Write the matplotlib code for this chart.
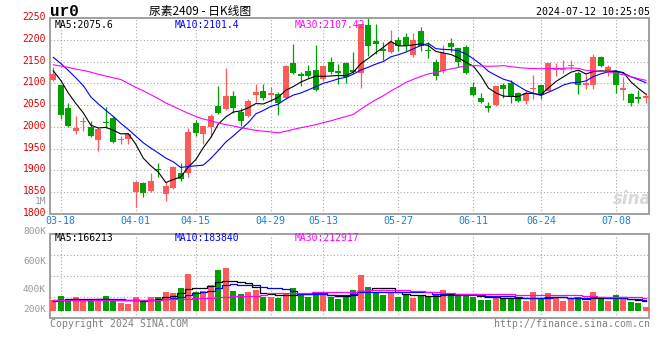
import numpy as np
import pandas as pd
import matplotlib
matplotlib.use("Agg")
import matplotlib.pyplot as plt
from matplotlib.transforms import ScaledTranslation

holidays = ["2024-04-04", "2024-04-05", "2024-05-01", "2024-05-02",
            "2024-05-03", "2024-06-10"]
days = [d for d in pd.bdate_range("2024-03-15", "2024-07-12")
        if d.strftime("%Y-%m-%d") not in holidays]
dates = [d.strftime("%m-%d") for d in days]

opens = [2108, 2096, 2043, 1990, 2011, 1999, 1970, 2011, 2020, 1970,
         1973, 1849, 1870, 1853, 1904, 1845, 1859, 1894, 1893, 2010,
         1983, 1999, 2049, 2041, 2070, 2035, 2024, 2074, 2083, 2074,
         2076, 2066, 2148, 2122, 2129, 2131, 2110, 2150, 2129, 2147,
         2132, 2125, 2235, 2197, 2180, 2172, 2201, 2206, 2165, 2220,
         2178, 2150, 2128, 2192, 2181, 2183, 2091, 2066, 2049, 2050,
         2096, 2101, 2078, 2060, 2088, 2096, 2083, 2130, 2130, 2141,
         2124, 2096, 2096, 2160, 2126, 2126, 2086, 2076, 2068, 2066]
highs = [2138, 2097, 2056, 2026, 2023, 2014, 1999, 2045, 2026, 1978,
         1987, 1876, 1874, 1893, 1917, 1872, 1910, 1917, 1997, 2016,
         2002, 2030, 2093, 2135, 2083, 2043, 2063, 2099, 2099, 2091,
         2081, 2142, 2190, 2126, 2142, 2189, 2142, 2160, 2145, 2150,
         2173, 2238, 2272, 2236, 2195, 2222, 2207, 2216, 2215, 2231,
         2195, 2156, 2189, 2204, 2182, 2189, 2104, 2079, 2058, 2094,
         2102, 2109, 2081, 2086, 2119, 2097, 2147, 2148, 2153, 2155,
         2129, 2122, 2168, 2164, 2142, 2132, 2114, 2079, 2086, 2078]
lows = [2106, 2018, 1999, 1983, 1990, 1977, 1945, 1997, 1962, 1960,
        1960, 1815, 1838, 1850, 1884, 1830, 1856, 1875, 1884, 1978,
        1960, 1976, 2030, 2039, 2033, 2003, 2022, 2058, 2062, 2058,
        2027, 2064, 2121, 2095, 2112, 2082, 2106, 2122, 2099, 2100,
        2123, 2089, 2164, 2167, 2153, 2171, 2175, 2175, 2161, 2175,
        2158, 2108, 2125, 2173, 2137, 2122, 2070, 2056, 2035, 2049,
        2066, 2056, 2058, 2052, 2064, 2064, 2082, 2118, 2123, 2130,
        2076, 2088, 2088, 2138, 2118, 2078, 2062, 2047, 2055, 2054]
closes = [2122, 2027, 2001, 1997, 2014, 1980, 1995, 2008, 1964, 1972,
          1983, 1872, 1848, 1876, 1900, 1863, 1907, 1879, 1988, 1986,
          2001, 2024, 2033, 2070, 2043, 2014, 2060, 2081, 2066, 2079,
          2055, 2141, 2123, 2118, 2116, 2086, 2139, 2127, 2123, 2114,
          2127, 2237, 2187, 2190, 2175, 2195, 2186, 2187, 2201, 2187,
          2175, 2118, 2170, 2183, 2149, 2124, 2073, 2058, 2043, 2093,
          2087, 2068, 2060, 2079, 2090, 2073, 2146, 2134, 2133, 2143,
          2097, 2102, 2162, 2141, 2138, 2096, 2089, 2054, 2065, 2072]
# volume, thousand lots
volumes = [175, 240, 191, 224, 159, 159, 191, 240, 159, 131,
           115, 224, 159, 224, 224, 306, 290, 371, 601, 306,
           322, 416, 666, 699, 322, 269, 306, 339, 224, 224,
           208, 285, 371, 252, 224, 290, 278, 229, 191, 229,
           339, 584, 388, 306, 257, 311, 229, 257, 213, 257,
           229, 257, 339, 269, 269, 257, 229, 175, 175, 246,
           203, 213, 191, 159, 306, 186, 290, 213, 164, 186,
           224, 164, 306, 191, 164, 257, 191, 142, 126, 66]

# moving averages before enough bars are on screen
ma5_head = [2129, 2107, 2078, 2054]
ma10_head = [2160, 2146, 2130, 2113, 2095, 2069, 2053, 2038, 2024]
ma30_head = [2143, 2140, 2137, 2133, 2130, 2126, 2121, 2117, 2113, 2109,
             2100, 2091, 2083, 2074, 2065, 2055, 2047, 2039, 2031, 2024,
             2018, 2014, 2009, 2005, 2002, 1998, 1995, 1992, 1990]
vma5_head = [160, 175, 185, 195]
vma10_head = [170, 172, 175, 178, 180, 182, 184, 185, 186]
vma30_head = [175, 175, 176, 176, 177, 177, 178, 178, 179, 179,
              180, 180, 181, 181, 182, 184, 187, 190, 195, 200,
              205, 212, 220, 228, 234, 240, 244, 248, 252]

tick_dates = ["03-18", "04-01", "04-15", "04-29", "05-13",
              "05-27", "06-11", "06-24", "07-08"]
price_ticks = list(range(1800, 2251, 50))
vol_labels = [("1M", 201.5), ("800K", 231), ("600K", 261),
              ("400K", 290), ("200K", 310)]

RED = "#ff5a5a"
GREEN = "#00a000"
GRID = "#a8a8a8"
FRAME = "#a0a0a0"
MONO = "DejaVu Sans Mono"
W, H = 660, 360


def box(l, t, r, b):
    return [l / W, 1 - b / H, (r - l) / W, (b - t) / H]


def with_head(values, n, head):
    ma = pd.Series(values, dtype=float).rolling(n).mean().to_numpy()
    ma[:n - 1] = head
    return ma


x = np.arange(len(dates))
o, h, l, c = map(np.asarray, (opens, highs, lows, closes))
up = c >= o
colors = np.where(up, RED, GREEN)
tick_pos = [dates.index(d) for d in tick_dates]

fig = plt.figure(figsize=(W / 100, H / 100), dpi=100)
ax = fig.add_axes(box(50.3, 18.3, 649.3, 213.7))
axv = fig.add_axes(box(50.3, 234.3, 649.3, 318.3))

for a in (ax, axv):
    a.set_xlim(-0.4, 79.45)
    a.set_xticks(tick_pos)
    a.grid(True, color=GRID, lw=0.8, linestyle=(0, (1, 2)))
    a.set_axisbelow(True)
    a.tick_params(length=0)
    for s in a.spines.values():
        s.set_color(FRAME)
        s.set_linewidth(1.4)

# ---- candles ----
ax.vlines(x, l, h, colors=colors, lw=0.9, zorder=2)
body_lo = np.minimum(o, c)
body_h = np.maximum(np.abs(c - o), 2.0)
ax.bar(x, body_h, bottom=body_lo, width=0.8, color=colors, lw=0, zorder=3)

ax.plot(x, with_head(c, 5, ma5_head), color="black", lw=0.8, zorder=4)
ax.plot(x, with_head(c, 10, ma10_head), color="#0000ff", lw=0.8, zorder=4)
ax.plot(x, with_head(c, 30, ma30_head), color="#ff00ff", lw=0.8, zorder=4)

ax.set_ylim(1800, 2250)
ax.set_yticks(price_ticks)
ax.set_yticklabels([str(p) for p in price_ticks], color="#e00000",
                   family=MONO, fontsize=7)
ax.tick_params(axis="y", pad=3)
lift = ScaledTranslation(0, 2 / 100, fig.dpi_scale_trans)
for lab in ax.get_yticklabels():
    lab.set_transform(lab.get_transform() + lift)
ax.set_xticklabels(tick_dates, color="#1a7fd4", family=MONO, fontsize=7.2)
ax.tick_params(axis="x", pad=2)

ax.text(0.008, 0.968, "MA5:2075.6", transform=ax.transAxes, family=MONO,
        fontsize=7, color="black", va="center", zorder=6)
ax.text(0.208, 0.968, "MA10:2101.4", transform=ax.transAxes, family=MONO,
        fontsize=7, color="#0000ff", va="center", zorder=6)
ax.text(0.408, 0.968, "MA30:2107.42", transform=ax.transAxes, family=MONO,
        fontsize=7, color="#ff00ff", va="center", zorder=6)

ax.text(0.972, 0.075, "sina", transform=ax.transAxes, fontsize=12,
        fontweight="bold", style="italic", color="#d8d8d8", ha="center",
        va="center", zorder=1)

# ---- volume ----
v = np.asarray(volumes, dtype=float)
k_per_px = 16.37
axv.set_ylim(-7.6 * k_per_px, 76.4 * k_per_px)
lo, hi = axv.get_ylim()
axv.set_yticks([lo + f * (hi - lo) for f in (0.25, 0.5, 0.75)])
axv.set_yticklabels([])
axv.set_xticklabels([])
axv.bar(x, v, width=0.8, color=colors, lw=0, zorder=3)
axv.plot(x, with_head(v, 5, vma5_head), color="black", lw=0.9,
         drawstyle="steps-mid", zorder=4)
axv.plot(x, with_head(v, 10, vma10_head), color="#0000ff", lw=0.9,
         drawstyle="steps-mid", zorder=4)
axv.plot(x, with_head(v, 30, vma30_head), color="#ff00ff", lw=0.9,
         drawstyle="steps-mid", zorder=4)

axv.text(0.008, 0.952, "MA5:166213", transform=axv.transAxes, family=MONO,
         fontsize=7, color="black", va="center", zorder=6)
axv.text(0.208, 0.952, "MA10:183840", transform=axv.transAxes, family=MONO,
         fontsize=7, color="#0000ff", va="center", zorder=6)
axv.text(0.408, 0.952, "MA30:212917", transform=axv.transAxes, family=MONO,
         fontsize=7, color="#ff00ff", va="center", zorder=6)

for lab, ypx in vol_labels:
    fig.text(46 / W, 1 - ypx / H, lab, ha="right", va="center", family=MONO,
             fontsize=6.8, color="#999999")

# ---- header / footer ----
fig.text(50 / W, 1 - 12 / H, "ur0", family="Liberation Mono",
         fontweight="bold", fontsize=11.5, va="center", ha="left")
fig.text(200 / W, 1 - 11 / H, "尿素2409 - 日K线图",
         family=["Noto Sans CJK SC", "DejaVu Sans"], fontsize=8.5,
         ha="center", va="center")
fig.text(650 / W, 1 - 12 / H, "2024-07-12 10:25:05", family=MONO,
         fontsize=7.2, ha="right", va="center")
fig.text(50 / W, 1 - 324 / H, "Copyright 2024 SINA.COM", family=MONO,
         fontsize=7.1, color="#808080", ha="left", va="center")
fig.text(650 / W, 1 - 324 / H, "http://finance.sina.com.cn", family=MONO,
         fontsize=7.1, color="#808080", ha="right", va="center")

fig.savefig("out.png", dpi=100)
